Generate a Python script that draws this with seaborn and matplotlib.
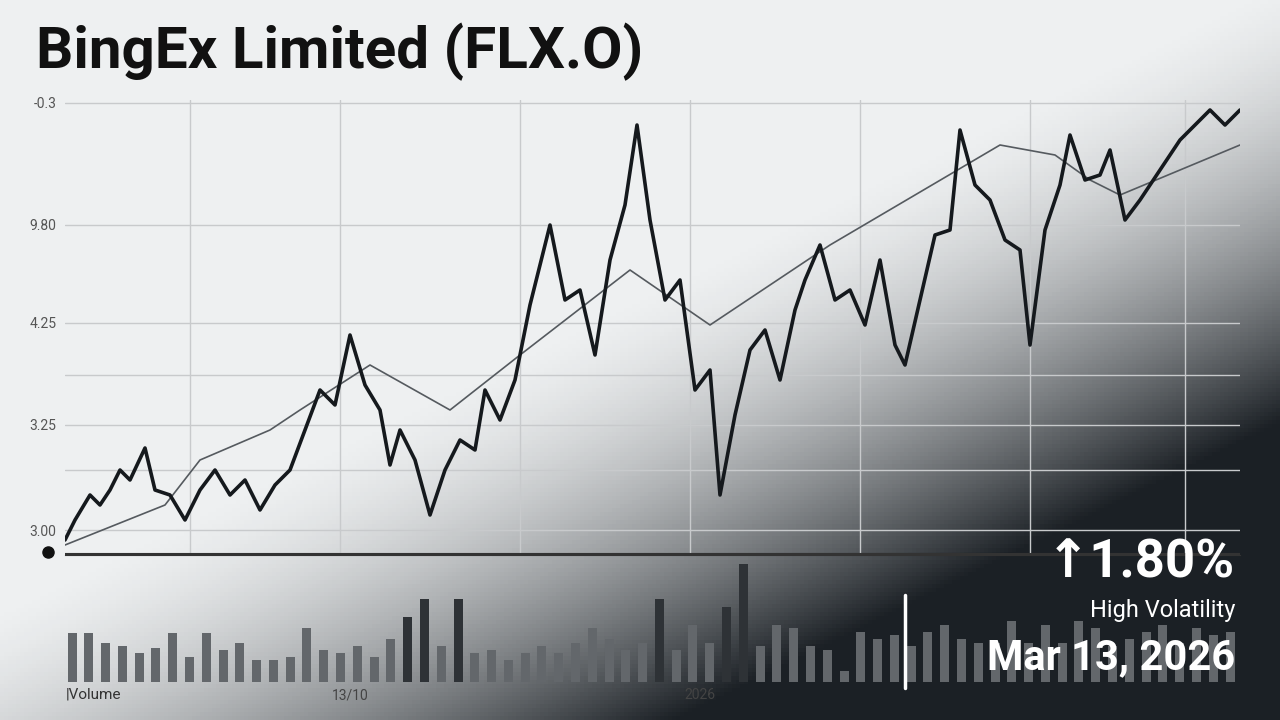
import matplotlib.pyplot as plt
import numpy as np
import seaborn as sns

# price path (x position, level)
price_x = [65, 75, 90, 100, 110, 120, 130, 145, 155, 170, 185, 200, 215, 230, 245, 260, 275, 290, 305, 320,
           335, 350, 365, 380, 390, 400, 415, 430, 445, 460, 475, 485, 500, 515, 530, 550, 565, 580, 595, 610,
           625, 637, 650, 665, 680, 695, 710, 720, 735, 750, 765, 780, 795, 805, 820, 835, 850, 865, 880, 895,
           905, 920, 935, 950, 960, 975, 990, 1005, 1020, 1030, 1045, 1060, 1070, 1085, 1100, 1110, 1125, 1140,
           1160, 1180, 1195, 1210, 1225, 1240]
price_y = [180, 200, 225, 215, 230, 250, 240, 272, 230, 225, 200, 230, 250, 225, 240, 210, 235, 250, 290, 330,
           315, 385, 335, 310, 255, 290, 260, 205, 250, 280, 270, 330, 300, 340, 415, 495, 420, 430, 365, 460,
           515, 595, 500, 420, 440, 330, 350, 225, 305, 370, 390, 340, 410, 440, 475, 420, 430, 395, 460, 375,
           355, 420, 485, 490, 590, 535, 520, 480, 470, 375, 490, 535, 585, 540, 545, 570, 500, 520, 550, 580,
           595, 610, 595, 610]
ma_x = [65, 165, 200, 270, 300, 370, 450, 520, 630, 710, 830, 1000, 1055, 1090, 1120, 1240]
ma_y = [175, 215, 260, 290, 310, 355, 310, 365, 450, 395, 475, 575, 565, 540, 525, 575]
vol = [68, 68, 55, 50, 40, 48, 68, 35, 68, 45, 55, 30, 30, 35, 75, 45, 40, 50, 35, 60,
       90, 115, 50, 115, 40, 45, 30, 40, 50, 40, 55, 75, 60, 45, 55, 115, 45, 80, 55, 105,
       165, 50, 80, 75, 50, 45, 15, 70, 60, 65, 50, 70, 80, 60, 55, 55, 85, 55, 80, 55,
       85, 75, 50, 60, 70, 80, 55, 75, 65, 70]
ytick_pos = [617, 495, 397, 295, 190]
ytick_lab = ['-0.3', '9.80', '4.25', '3.25', '3.00']

sns.set_style('white')
plt.rcParams['font.family'] = ['Roboto', 'DejaVu Sans']
fig = plt.figure(figsize=(12.8, 7.2), dpi=100)
fig.patch.set_facecolor('#eef0f1')

ax = fig.add_axes([65/1280, 1-555/720, 1175/1280, 455/720])
ax.set_facecolor('none')
ax.set_xlim(65, 1240)
ax.set_ylim(165, 620)
for gx in [190, 340, 520, 690, 860, 1030, 1185]:
    ax.axvline(gx, color='#c8cacc', lw=1)
for gy in [617, 495, 397, 345, 295, 250, 190]:
    ax.axhline(gy, color='#c8cacc', lw=1)
sns.lineplot(x=ma_x, y=ma_y, ax=ax, color='#555a5f', lw=1.2)
sns.lineplot(x=price_x, y=price_y, ax=ax, color='#15191d', lw=2.6)
ax.set_yticks(ytick_pos)
ax.set_yticklabels(ytick_lab, color='#555', fontsize=10)
ax.set_xticks([])
ax.tick_params(axis='y', length=0, pad=6)
sns.despine(ax=ax, left=True, top=True, right=True)
ax.spines['bottom'].set_color('#333')
ax.axhline(166, color='#333', lw=1.5)

axv = fig.add_axes([65/1280, 1-682/720, 1175/1280, 122/720])
axv.set_facecolor('none')
vx = np.linspace(72, 1230, len(vol))
cols = ['#2e3236' if v > 85 else '#63676b' for v in vol]
axv.bar(vx, vol, width=9, color=cols, linewidth=0)
axv.set_xlim(65, 1240)
axv.set_ylim(0, 170)
axv.set_yticks([])
axv.set_xticks([])
sns.despine(ax=axv, left=True, bottom=True)

# dark gradient in the lower right corner
gx, gy = np.meshgrid(np.linspace(0, 1, 320), np.linspace(0, 1, 180))
a = np.clip((gx - 0.5) * 1.4 + (gy - 0.4) * 1.6, 0, 1) ** 1.6
img = np.zeros((180, 320, 4))
img[..., :3] = np.array([0.08, 0.10, 0.12])
img[..., 3] = a * 0.97
bg = fig.add_axes([0, 0, 1, 1], zorder=-1)
bg.imshow(img, extent=[0, 1, 0, 1], aspect='auto')
bg.axis('off')
ax.set_zorder(1); axv.set_zorder(1)

fig.text(36/1280, 1-52/720, 'BingEx Limited (FLX.O)', fontsize=42, fontweight='bold', va='center', color='#111')
fig.text(66/1280, 1-695/720, '|Volume', fontsize=11, color='#333', va='center')
fig.text(350/1280, 1-695/720, '13/10', fontsize=10, color='#444', va='center', ha='center')
fig.text(700/1280, 1-695/720, '2026', fontsize=10, color='#444', va='center', ha='center')
ov = fig.add_axes([0, 0, 1, 1], zorder=5)
ov.set_xlim(0, 1280); ov.set_ylim(720, 0); ov.axis('off')
ov.plot([48], [552], 'o', color='#111', ms=8)
ov.plot([905, 905], [595, 688], color='white', lw=2.5)
ov.text(1235, 563, '↑1.80%', fontsize=38, fontweight='bold', color='white', ha='right', va='center',
        family=['Roboto', 'DejaVu Sans'])
ov.text(1235, 611, 'High Volatility', fontsize=17, color='white', ha='right', va='center')
ov.text(1235, 658, 'Mar 13, 2026', fontsize=30, fontweight='bold', color='white', ha='right', va='center')

fig.savefig('out.png', dpi=100)
